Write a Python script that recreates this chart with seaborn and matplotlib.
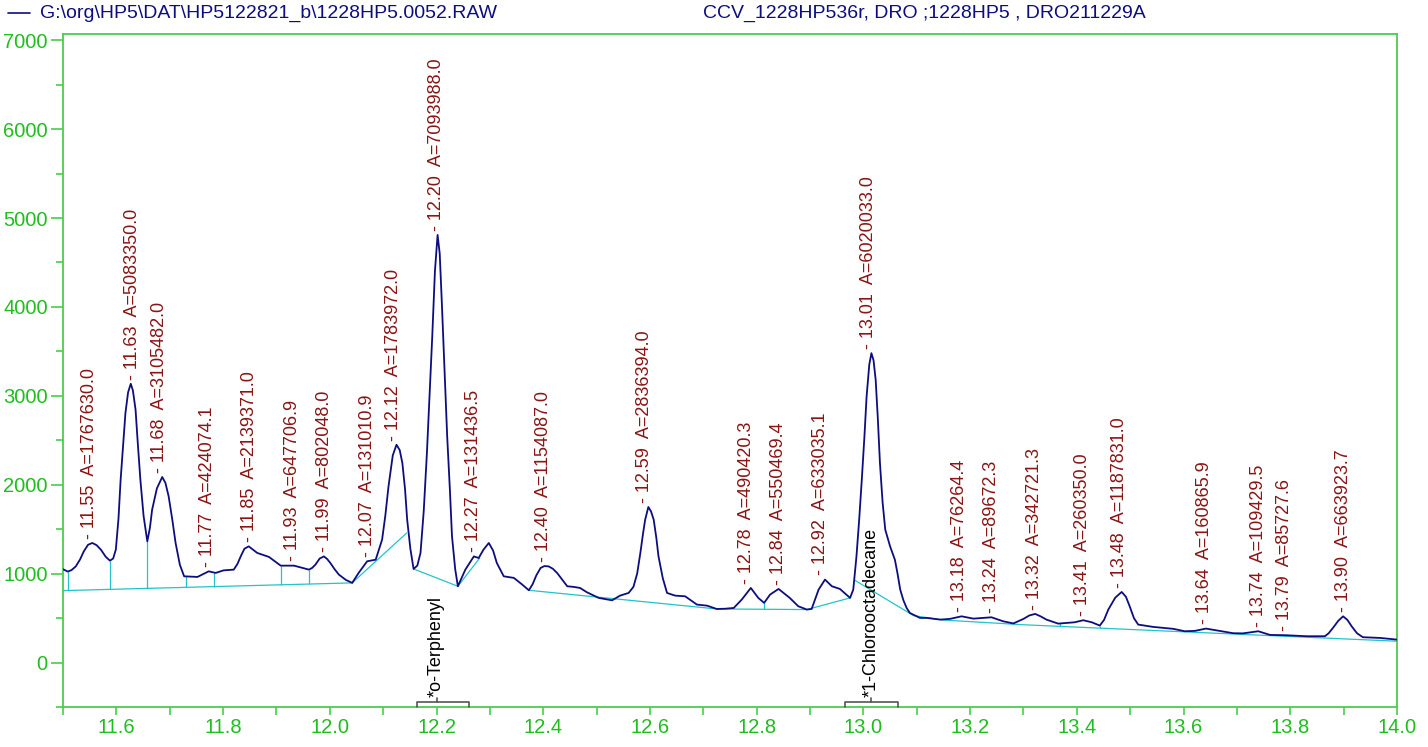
import numpy as np
import pandas as pd
import matplotlib.pyplot as plt
import seaborn as sns
from matplotlib.lines import Line2D
from matplotlib.ticker import MultipleLocator, FormatStrFormatter

rt = [11.500, 11.505, 11.509, 11.516, 11.524, 11.532, 11.539, 11.547, 11.555, 11.563,
      11.571, 11.580, 11.588, 11.594, 11.599, 11.604, 11.608,
      11.613, 11.617, 11.622, 11.627, 11.631, 11.636, 11.640, 11.645, 11.651, 11.658,
      11.663, 11.667, 11.676, 11.686, 11.692, 11.698, 11.705, 11.711, 11.719, 11.727,
      11.752, 11.773, 11.786, 11.801, 11.820, 11.827, 11.833, 11.840, 11.848, 11.856,
      11.864, 11.886, 11.908, 11.933, 11.961, 11.967, 11.973, 11.981, 11.989, 11.995,
      12.001, 12.009, 12.017, 12.030, 12.042, 12.054, 12.070,
      12.086, 12.098, 12.104, 12.110, 12.118, 12.125, 12.131, 12.136, 12.141, 12.145,
      12.151, 12.157, 12.164, 12.170, 12.176, 12.182, 12.187, 12.192, 12.197, 12.202,
      12.206, 12.210, 12.215, 12.220, 12.225, 12.229, 12.235, 12.240, 12.254, 12.270,
      12.279, 12.288, 12.298, 12.306, 12.313, 12.326, 12.345, 12.360, 12.373, 12.380,
      12.387, 12.395, 12.402, 12.410, 12.418, 12.426, 12.437, 12.445, 12.457, 12.469,
      12.482, 12.504, 12.529,
      12.544, 12.560, 12.569, 12.576, 12.582, 12.587, 12.591, 12.597, 12.602, 12.607,
      12.612, 12.616, 12.624, 12.632, 12.647, 12.666, 12.688, 12.707, 12.725, 12.740,
      12.757, 12.772, 12.789, 12.803, 12.814, 12.825, 12.841, 12.862, 12.878, 12.894,
      12.903, 12.916, 12.928, 12.941, 12.956, 12.975, 12.981, 12.987, 12.992, 12.997,
      13.002, 13.006, 13.011, 13.015, 13.019, 13.023, 13.027, 13.031, 13.036, 13.041,
      13.050, 13.059, 13.064, 13.069, 13.075, 13.081, 13.087, 13.097, 13.106, 13.119,
      13.144, 13.162, 13.184, 13.206, 13.240, 13.262, 13.281, 13.300, 13.311, 13.322,
      13.332, 13.343, 13.365, 13.396, 13.412, 13.428, 13.443, 13.451, 13.459, 13.472,
      13.484, 13.492, 13.499, 13.507, 13.515, 13.543, 13.581, 13.602, 13.621, 13.642,
      13.661, 13.693, 13.711, 13.740, 13.762, 13.793, 13.830, 13.865, 13.872, 13.880,
      13.890, 13.899, 13.907, 13.915, 13.925, 13.936, 13.968, 14.000]
signal = [1050, 1035, 1023, 1040, 1082, 1160, 1251, 1325, 1345, 1320,
          1270, 1190, 1146, 1170, 1270, 1620, 2057,
          2480, 2806, 3040, 3136, 3060, 2843, 2480, 2057, 1650, 1363,
          1520, 1719, 1960, 2087, 2020, 1869, 1600, 1345, 1100, 970,
          963, 1026, 1008, 1037, 1045, 1110, 1194, 1280, 1307, 1270,
          1233, 1188, 1090, 1090, 1045, 1065, 1101, 1170, 1194, 1165,
          1120, 1050, 989, 930, 896, 1008, 1139,
          1157, 1382, 1650, 1981, 2330, 2450, 2390, 2244, 1950, 1607,
          1280, 1053, 1090, 1233, 1700, 2357, 3000, 3667, 4400, 4810,
          4600, 4042, 3300, 2543, 1950, 1420, 1050, 858, 1045, 1194,
          1176, 1270, 1345, 1260, 1120, 970, 952, 880, 813, 880,
          980, 1064, 1085, 1082, 1055, 1008, 920, 858, 851, 839,
          790, 727, 700,
          753, 783, 851, 1000, 1233, 1450, 1607, 1750, 1700, 1607,
          1400, 1194, 950, 783, 753, 745, 652, 640, 603, 605,
          614, 708, 839, 727, 671, 764, 828, 727, 633, 596,
          603, 820, 933, 858, 828, 727, 820, 1194, 1600, 2057,
          2550, 2993, 3350, 3480, 3400, 3180, 2750, 2244, 1800, 1494,
          1307, 1157, 1000, 820, 700, 614, 558, 528, 502, 502,
          483, 491, 520, 494, 509, 464, 440, 491, 530, 547,
          520, 483, 438, 453, 476, 453, 416, 480, 596, 730,
          794, 740, 633, 500, 427, 401, 379, 352, 356, 382,
          363, 330, 328, 352, 311, 307, 296, 296, 330, 390,
          470, 520, 480, 408, 330, 285, 277, 258]

# Lineas base (segmentos)
base_segments = [
    ([11.500, 12.042], [809, 896]),
    ([12.042, 12.144], [896, 1457]),
    ([12.157, 12.240], [1053, 858]),
    ([12.240, 12.281], [858, 1176]),
    ([12.373, 12.725], [813, 603]),
    ([12.725, 12.894], [603, 596]),
    ([12.894, 12.975], [596, 727]),
    ([12.984, 13.094], [925, 528]),
    ([13.094, 13.150, 13.300, 14.000], [528, 478, 425, 240]),
]
drop_rt = [11.509, 11.588, 11.658, 11.730, 11.783, 11.908, 11.961, 12.814, 13.368, 13.443]

# Etiquetas de picos
peak_rt = [11.55, 11.63, 11.68, 11.77, 11.85, 11.93, 11.99, 12.07, 12.12, 12.20,
           12.27, 12.40, 12.59, 12.78, 12.84, 12.92, 13.01, 13.18, 13.24, 13.32,
           13.41, 13.48, 13.64, 13.74, 13.79, 13.90]
peak_area = [1767630.0, 5083350.0, 3105482.0, 424074.1, 2139371.0, 647706.9, 802048.0,
             131010.9, 1783972.0, 7093988.0, 131436.5, 1154087.0, 2836394.0, 490420.3,
             550469.4, 633035.1, 6020033.0, 76264.4, 89672.3, 342721.3, 260350.0,
             1187831.0, 160865.9, 109429.5, 85727.6, 663923.7]

compound_names = ['*o-Terphenyl', '*1-Chlorooctadecane']
compound_rt = [12.20, 13.015]
compound_win = [(12.163, 12.260), (12.965, 13.065)]

file_label = r"G:\org\HP5\DAT\HP5122821_b\1228HP5.0052.RAW"
method_label = "CCV_1228HP536r, DRO ;1228HP5 , DRO211229A"

navy = '#0d0d80'
cyan = '#22c4c8'
darkred = '#8a1414'
green_axis = '#4ccc4c'
green_text = '#1ebe1e'

sns.set_style("ticks")
plt.rcParams['font.family'] = ['Liberation Sans', 'DejaVu Sans']

W, H = 1428, 747
fig = plt.figure(figsize=(W / 100, H / 100), dpi=100)
ax = fig.add_axes([63 / W, 1 - 707 / H, (1397 - 63) / W, (707 - 34) / H])

df = pd.DataFrame({'time': rt, 'signal': signal})
sns.lineplot(data=df, x='time', y='signal', ax=ax, color=navy, lw=1.3,
             sort=False, estimator=None, zorder=3)

for bt, bv in base_segments:
    sns.lineplot(x=bt, y=bv, ax=ax, color=cyan, lw=0.9, sort=False,
                 estimator=None, zorder=2)


def base_at(t):
    for bt, bv in base_segments:
        if bt[0] <= t <= bt[-1]:
            return np.interp(t, bt, bv)
    return np.nan


rt_arr = np.array(rt)
sig_arr = np.array(signal)
for t in drop_rt:
    ax.vlines(t, base_at(t), np.interp(t, rt_arr, sig_arr), color=cyan, lw=0.9, zorder=2)

for t, a in zip(peak_rt, peak_area):
    m = np.abs(rt_arr - t) <= 0.011
    top = sig_arr[m].max()
    ax.annotate(f"- {t:.2f}  A={a:.1f}", xy=(t, top), xytext=(0, 3),
                textcoords='offset points', rotation=90, ha='center', va='bottom',
                color=darkred, fontsize=13)

for name, t, (w0, w1) in zip(compound_names, compound_rt, compound_win):
    ax.plot([w0, w0, w1, w1], [-500, -446, -446, -500], color='#555555', lw=1.2,
            clip_on=False, zorder=4)
    ax.plot([t, t], [-446, -395], color='#555555', lw=1.2, zorder=4)
    ax.text(t, -385, name, rotation=90, ha='center', va='bottom', color='black',
            fontsize=13)

ax.set_xlim(11.5, 14.0)
ax.set_ylim(-500, 7070)
ax.set_xlabel('')
ax.set_ylabel('')
ax.xaxis.set_major_locator(MultipleLocator(0.2))
ax.xaxis.set_minor_locator(MultipleLocator(0.1))
ax.xaxis.set_major_formatter(FormatStrFormatter('%.1f'))
ax.yaxis.set_major_locator(MultipleLocator(1000))
ax.yaxis.set_minor_locator(MultipleLocator(500))
ax.tick_params(which='both', direction='out', color=green_axis, labelcolor=green_text,
               labelsize=14.5, width=1.2)
ax.tick_params(axis='x', which='both', length=6, pad=2)
ax.tick_params(axis='y', which='major', length=9, pad=2)
ax.tick_params(axis='y', which='minor', length=5)
for s in ax.spines.values():
    s.set_visible(True)
    s.set_color(green_axis)
    s.set_linewidth(1.3)

fig.add_artist(Line2D([8 / W, 30 / W], [1 - 13 / H, 1 - 13 / H], color=navy, lw=1.2))
fig.text(40 / W, 1 - 13 / H, file_label, color=navy, fontsize=14, va='center')
fig.text(703 / W, 1 - 13 / H, method_label, color=navy, fontsize=14, va='center')

fig.savefig('out.png', dpi=100)
